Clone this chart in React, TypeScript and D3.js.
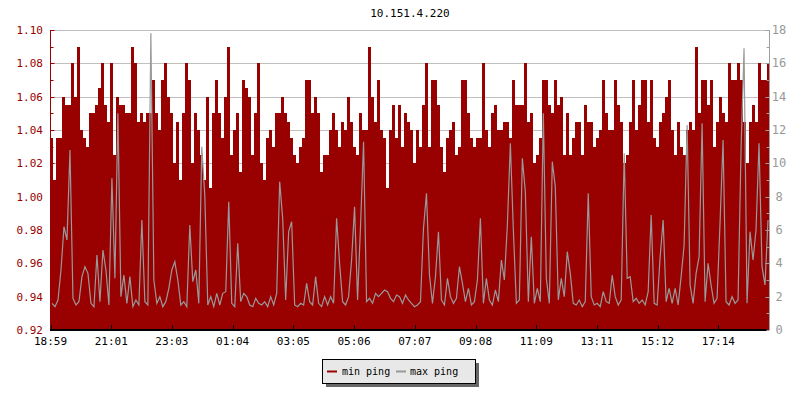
import React from "react";
import * as d3 from "d3";

// ---- data (one sample every 6 minutes, 24 hours) ----
const title = "10.151.4.220";
const seriesNames = ["min ping", "max ping"];

const minPing: number[] = [
  1.035, 1.01, 1.035, 1.035, 1.06, 1.055, 1.055, 1.08, 1.06, 1.09,
  1.04, 1.035, 1.03, 1.05, 1.05, 1.055, 1.065, 1.08, 1.055, 1.045,
  1.08, 1.025, 1.06, 1.055, 1.055, 1.05, 1.05, 1.09, 1.08, 1.045,
  1.05, 1.045, 1.05, 1.05, 1.07, 1.05, 1.04, 1.07, 1.08, 1.06,
  1.05, 1.02, 1.045, 1.01, 1.05, 1.08, 1.07, 1.02, 1.05, 1.04,
  1.025, 1.01, 1.06, 1.005, 1.05, 1.07, 1.05, 1.035, 1.06, 1.09,
  1.025, 1.04, 1.05, 1.015, 1.07, 1.065, 1.06, 1.025, 1.05, 1.08,
  1.02, 1.01, 1.035, 1.04, 1.03, 1.05, 1.05, 1.06, 1.05, 1.045,
  1.035, 1.025, 1.02, 1.03, 1.035, 1.07, 1.07, 1.05, 1.06, 1.05,
  1.015, 1.025, 1.025, 1.04, 1.05, 1.04, 1.03, 1.045, 1.04, 1.06,
  1.045, 1.03, 1.025, 1.05, 1.04, 1.04, 1.09, 1.06, 1.045, 1.07,
  1.04, 1.035, 1.005, 1.04, 1.055, 1.035, 1.055, 1.03, 1.05, 1.045,
  1.04, 1.02, 1.04, 1.03, 1.055, 1.08, 1.03, 1.07, 1.07, 1.055,
  1.03, 1.015, 1.035, 1.04, 1.045, 1.025, 1.03, 1.07, 1.07, 1.05,
  1.035, 1.03, 1.035, 1.035, 1.08, 1.04, 1.03, 1.05, 1.055, 1.04,
  1.04, 1.045, 1.045, 1.035, 1.07, 1.055, 1.055, 1.055, 1.08, 1.045,
  1.05, 1.02, 1.025, 1.035, 1.07, 1.07, 1.055, 1.05, 1.07, 1.055,
  1.06, 1.025, 1.05, 1.025, 1.035, 1.045, 1.045, 1.025, 1.055, 1.045,
  1.045, 1.03, 1.035, 1.04, 1.07, 1.05, 1.04, 1.04, 1.07, 1.055,
  1.045, 1.02, 1.025, 1.045, 1.07, 1.04, 1.055, 1.07, 1.07, 1.045,
  1.07, 1.035, 1.03, 1.045, 1.05, 1.06, 1.07, 1.04, 1.025, 1.045,
  1.03, 1.025, 1.04, 1.045, 1.04, 1.09, 1.05, 1.07, 1.07, 1.055,
  1.07, 1.03, 1.045, 1.06, 1.05, 1.045, 1.08, 1.07, 1.07, 1.08,
  1.07, 1.045, 1.02, 1.045, 1.055, 1.045, 1.08, 1.07, 1.07, 1.08,
];

const maxPing: number[] = [
  1.6, 1.4, 1.8, 3.6, 6.2, 5.4, 10.8, 1.9, 1.5, 1.7,
  3.2, 3.8, 3.4, 1.6, 1.4, 4.5, 1.7, 4.8, 3.6, 1.5,
  9.1, 3.1, 13.0, 2.0, 3.3, 1.6, 3.2, 1.4, 1.8, 1.5,
  6.6, 1.7, 1.5, 17.8, 3.0, 1.6, 2.0, 1.4, 1.7, 2.5,
  3.6, 4.1, 3.0, 1.5, 1.7, 1.4, 6.3, 2.9, 3.6, 1.6,
  11.0, 8.1, 1.5, 2.0, 1.4, 2.2, 1.5, 2.2, 2.3, 7.7,
  1.6, 1.4, 5.2, 1.7, 2.2, 2.0, 1.5, 1.4, 1.9, 1.6,
  1.5, 1.7, 1.4, 2.0, 1.5, 2.2, 8.9, 6.7, 1.8, 5.9,
  6.5, 1.5, 1.4, 1.6, 1.5, 2.8, 1.7, 1.5, 3.2, 1.6,
  1.4, 2.0, 1.5, 2.0, 1.6, 6.7, 4.0, 1.7, 1.5, 2.0,
  4.2, 7.4, 1.8, 6.3, 11.3, 1.7, 1.9, 1.6, 2.2, 2.0,
  2.2, 2.4, 2.3, 1.9, 1.7, 2.1, 2.0, 1.6, 2.1, 1.8,
  1.6, 1.4, 1.5, 1.7, 6.1, 8.2, 3.3, 1.6, 3.2, 5.9,
  1.8, 1.5, 3.1, 2.0, 1.6, 1.9, 3.8, 2.8, 1.7, 2.5,
  1.5, 1.7, 3.0, 6.7, 1.6, 3.1, 1.8, 1.5, 2.4, 1.7,
  4.2, 3.0, 6.3, 11.2, 6.0, 1.6, 1.8, 10.3, 8.3, 1.7,
  5.6, 1.6, 2.5, 1.7, 13.0, 3.1, 1.6, 10.1, 8.6, 1.8,
  3.1, 2.0, 4.7, 3.4, 1.6, 1.5, 1.8, 1.4, 1.7, 8.2,
  2.0, 1.5, 1.6, 1.4, 2.3, 1.7, 1.6, 3.3, 2.0, 1.5,
  1.8, 10.6, 3.1, 3.2, 1.7, 1.9, 1.6, 1.8, 1.5, 2.3,
  6.9, 1.6, 1.5, 4.4, 6.6, 1.7, 2.5, 1.6, 2.5, 1.5,
  3.2, 5.1, 12.3, 2.7, 1.6, 3.4, 4.4, 12.4, 1.7, 4.0,
  2.7, 1.6, 1.9, 6.5, 11.4, 1.7, 1.5, 2.0, 1.6, 1.8,
  10.8, 16.9, 1.6, 5.9, 4.2, 6.0, 11.2, 3.8, 2.7, 6.6,
];

const timeTickLabels = [
  "18:59", "21:01", "23:03", "01:04", "03:05", "05:06",
  "07:07", "09:08", "11:09", "13:11", "15:12", "17:14",
];
const minutesPerSample = 6;
const minutesPerTimeTick = 121.6;

const leftTicks = [0.92, 0.94, 0.96, 0.98, 1.0, 1.02, 1.04, 1.06, 1.08, 1.1];
const leftMinorTicks = [0.93, 0.95, 0.97, 0.99, 1.01, 1.03, 1.05, 1.07, 1.09];
const rightTicks = [0, 2, 4, 6, 8, 10, 12, 14, 16, 18];
const rightMinorTicks = [1, 3, 5, 7, 9, 11, 13, 15, 17];

// ---- styles ----
const RED = "#990000";
const GREY = "#999999";
const MONO = "'DejaVu Sans Mono', monospace";

export default function App() {
  const W = 800;
  const H = 400;
  const left = 50.5;
  const right = 769.5;
  const top = 30;
  const bottom = 330;

  const totalMinutes = minPing.length * minutesPerSample;
  const x = d3.scaleLinear().domain([0, totalMinutes]).range([left, right]);
  const yL = d3.scaleLinear().domain([0.92, 1.1]).range([bottom, top]);
  const yR = d3.scaleLinear().domain([0, 18]).range([bottom, top]);

  const minData = minPing.map((v, i) => ({ t: i * minutesPerSample, v }));
  minData.push({ t: totalMinutes, v: minPing[minPing.length - 1] });

  const area = d3
    .area<{ t: number; v: number }>()
    .x((d) => Math.round(x(d.t)))
    .y0(bottom)
    .y1((d) => yL(d.v))
    .curve(d3.curveStepAfter);

  const line = d3
    .line<number>()
    .x((_, i) => x((i + 0.5) * minutesPerSample))
    .y((d) => yR(d));

  const timeTicks = timeTickLabels.map((label, k) => ({
    label,
    px: x(k * minutesPerTimeTick),
  }));

  return (
    <svg width={W} height={H} style={{ display: "block", position: "absolute", left: 0, top: 0 }}>
      <rect x={0} y={0} width={W} height={H} fill="#ffffff" />
      <text x={410} y={17} textAnchor="middle" fontFamily={MONO} fontSize={11} fill="#000">
        {title}
      </text>

      {/* grid */}
      {leftTicks.slice(1).map((t) => (
        <line key={"g" + t} x1={left} x2={right} y1={Math.round(yL(t)) + 0.5} y2={Math.round(yL(t)) + 0.5} stroke="#c0c0c0" strokeWidth={1} />
      ))}

      {/* min ping area */}
      <path d={area(minData) || ""} fill={RED} shapeRendering="crispEdges" />

      {/* max ping line */}
      <path d={line(maxPing) || ""} fill="none" stroke={GREY} strokeWidth={1.2} />

      {/* left axis */}
      <line x1={left} x2={left} y1={top} y2={bottom} stroke={RED} strokeWidth={1} />
      {leftTicks.map((t) => (
        <g key={"l" + t}>
          <line x1={left} x2={left + 4} y1={Math.round(yL(t)) + 0.5} y2={Math.round(yL(t)) + 0.5} stroke={RED} />
          <text x={43} y={yL(t) + 4} textAnchor="end" fontFamily={MONO} fontSize={11} fill={RED}>
            {t.toFixed(2)}
          </text>
        </g>
      ))}
      {leftMinorTicks.map((t) => (
        <line key={"lm" + t} x1={left} x2={left + 3} y1={Math.round(yL(t)) + 0.5} y2={Math.round(yL(t)) + 0.5} stroke={RED} />
      ))}

      {/* right axis */}
      <line x1={right} x2={right} y1={top} y2={bottom} stroke="#a0a0a0" strokeWidth={1} />
      {rightTicks.map((t) => (
        <g key={"r" + t}>
          <line x1={right - 4} x2={right} y1={Math.round(yR(t)) + 0.5} y2={Math.round(yR(t)) + 0.5} stroke="#a0a0a0" />
          <text x={779} y={yR(t) + 4} textAnchor="middle" fontFamily={MONO} fontSize={12} fill={GREY}>
            {t}
          </text>
        </g>
      ))}
      {rightMinorTicks.map((t) => (
        <line key={"rm" + t} x1={right - 3} x2={right} y1={Math.round(yR(t)) + 0.5} y2={Math.round(yR(t)) + 0.5} stroke="#a0a0a0" />
      ))}

      {/* bottom axis */}
      <line x1={left - 0.5} x2={right - 3} y1={330} y2={330} stroke="#000" strokeWidth={2} />
      {timeTicks.map((tk) => (
        <g key={tk.label}>
          <line x1={Math.round(tk.px) + 0.5} x2={Math.round(tk.px) + 0.5} y1={325} y2={330} stroke="#000" strokeWidth={1} />
          <text x={tk.px} y={345} textAnchor="middle" fontFamily={MONO} fontSize={11} fill="#000">
            {tk.label}
          </text>
        </g>
      ))}

      {/* legend */}
      <rect x={326} y={363} width={153} height={24} fill="#666666" />
      <rect x={322.5} y={359.5} width={153} height={24} fill="#e8e8e8" stroke="#000" strokeWidth={1} />
      <line x1={327} x2={337} y1={371.5} y2={371.5} stroke={RED} strokeWidth={2} />
      <text x={342} y={375} fontFamily={MONO} fontSize={10} fill="#000">{seriesNames[0]}</text>
      <line x1={396} x2={406} y1={371.5} y2={371.5} stroke={GREY} strokeWidth={2} />
      <text x={410} y={375} fontFamily={MONO} fontSize={10} fill="#000">{seriesNames[1]}</text>
    </svg>
  );
}
